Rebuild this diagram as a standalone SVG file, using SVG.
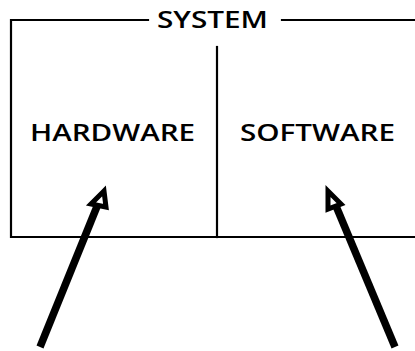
<svg xmlns="http://www.w3.org/2000/svg" width="415" height="351" viewBox="0 0 415 351">
  <style>
    .frame { fill: none; stroke: #000; stroke-width: 2.2; stroke-linecap: square; }
    .label { font-family: "Open Sans", "Noto Sans", "DejaVu Sans", sans-serif; font-weight: 600; font-size: 22.5px; fill: #000; }
    .shaft { fill: none; stroke: #000; stroke-width: 7.5; stroke-linecap: butt; }
    .head { fill: #fff; stroke: #000; stroke-width: 5; stroke-linejoin: miter; }
  </style>
  <rect width="415" height="351" fill="#fff"/>

  <!-- system boundary with title break -->
  <g id="system">
    <path class="frame" d="M148 20 H11 V237 H415 M282 20 H415"/>
    <text class="label" x="157" y="28" textLength="111" lengthAdjust="spacingAndGlyphs">SYSTEM</text>
  </g>

  <!-- divider between the two halves -->
  <g id="divider">
    <path class="frame" d="M217 47 V237"/>
  </g>

  <g id="hardware">
    <text class="label" x="30" y="141" textLength="165" lengthAdjust="spacingAndGlyphs">HARDWARE</text>
  </g>

  <g id="software">
    <text class="label" x="240" y="141" textLength="155" lengthAdjust="spacingAndGlyphs">SOFTWARE</text>
  </g>

  <!-- pointers into each half -->
  <g id="connectors">
    <path class="shaft" d="M40 347 L98 204"/>
    <polygon class="head" points="104,191 91,204 106,207"/>
    <path class="shaft" d="M395 347 L336 206"/>
    <polygon class="head" points="328,191 328,209 341,204"/>
  </g>
</svg>
